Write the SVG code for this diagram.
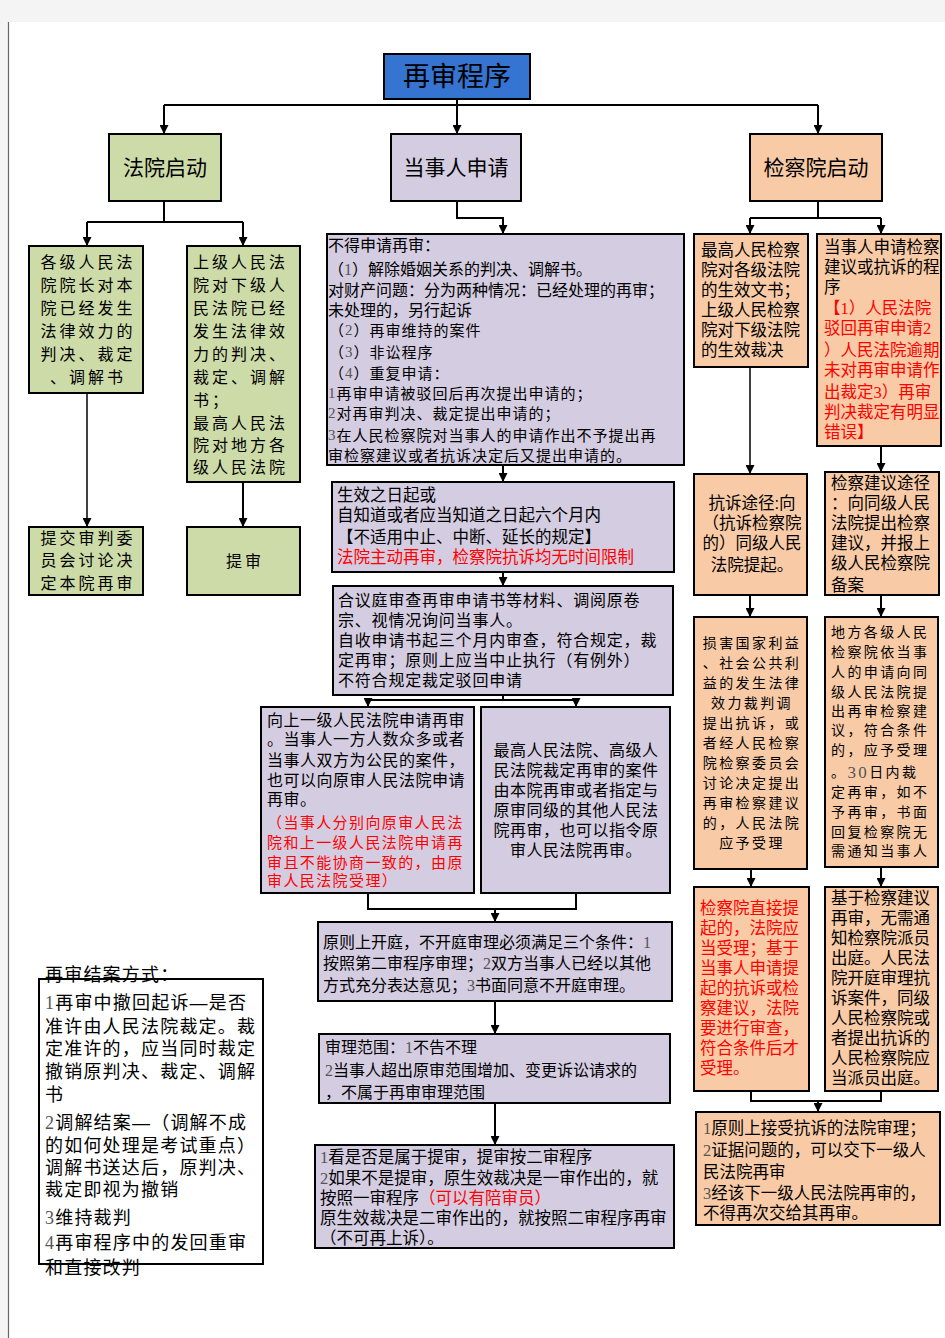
<svg xmlns="http://www.w3.org/2000/svg" width="945" height="1338" viewBox="0 0 945 1338">
<defs>
<marker id="ah" viewBox="0 0 10 10" refX="10" refY="5" markerWidth="11" markerHeight="9" markerUnits="userSpaceOnUse" orient="auto">
<path d="M0,0 L10,5 L0,10 z" fill="#000"/>
</marker>
<style>
text{font-family:"Liberation Sans","Noto Sans CJK SC",sans-serif;fill:#000;dominant-baseline:central}
.b{stroke:#000;stroke-width:2}
.g{fill:#cddba8}
.p{fill:#d4cce0}
.o{fill:#f8cba6}
.t16{font-size:16px}
.t165{font-size:16.5px}
.sp{font-size:14px;letter-spacing:2.4px}
.sg{font-size:16px;letter-spacing:3px}
.r{fill:#ff0000}
.d{font-family:"Liberation Serif",serif;fill:#555}
.c line,.c path{stroke:#000;stroke-width:2;fill:none}
.c .th{stroke-width:1.5}
</style>
</defs>
<rect x="0" y="0" width="945" height="1338" fill="#ffffff"/>
<rect x="0" y="0" width="945" height="22" fill="#f4f4f4"/>
<rect x="0" y="0" width="8" height="1338" fill="#f4f4f4"/>
<line x1="8.5" y1="22" x2="8.5" y2="1338" stroke="#666" stroke-width="1.2"/>

<g id="connectors" class="c">
<path d="M457,99 V134" marker-end="url(#ah)"/>
<path d="M164,105 H818"/>
<path d="M164,105 V134" marker-end="url(#ah)"/>
<path d="M818,105 V134" marker-end="url(#ah)"/>
<path d="M164,201 V222"/>
<path d="M87,222 H243"/>
<path d="M87,222 V246" marker-end="url(#ah)"/>
<path d="M243,222 V246" marker-end="url(#ah)"/>
<path d="M457,201 V218 H503 V234" marker-end="url(#ah)"/>
<path d="M818,201 V218"/>
<path d="M750,218 H881"/>
<path d="M750,218 V234" marker-end="url(#ah)"/>
<path d="M881,218 V234" marker-end="url(#ah)"/>
<path class="th" d="M87,393 V527" marker-end="url(#ah)"/>
<path d="M243,482 V527" marker-end="url(#ah)"/>
<path d="M503,465 V482" marker-end="url(#ah)"/>
<path d="M503,572 V586" marker-end="url(#ah)"/>
<path d="M503,695 V700"/>
<path d="M368,700 H576"/>
<path d="M368,700 V707" marker-end="url(#ah)"/>
<path d="M576,700 V707" marker-end="url(#ah)"/>
<path d="M368,893 V909 H576 V893"/>
<path d="M495,909 V922" marker-end="url(#ah)"/>
<path d="M495,1001 V1034" marker-end="url(#ah)"/>
<path d="M495,1103 V1145" marker-end="url(#ah)"/>
<path class="th" d="M750,367 V474" marker-end="url(#ah)"/>
<path d="M881,446 V472" marker-end="url(#ah)"/>
<path d="M750,595 V617" marker-end="url(#ah)"/>
<path d="M881,595 V617" marker-end="url(#ah)"/>
<path d="M751,869 V887" marker-end="url(#ah)"/>
<path d="M881,867 V887" marker-end="url(#ah)"/>
<path d="M751,1091 V1101 H881 V1091"/>
<path d="M818,1101 V1112" marker-end="url(#ah)"/>
</g>

<g id="n-title">
<rect x="384" y="54" width="146" height="45" fill="#3574d0" class="b"/>
<text x="457" y="77" font-size="27" text-anchor="middle">再审程序</text>
</g>
<g id="n-court">
<rect x="109" y="134" width="112" height="67" class="b g"/>
<text x="165" y="167" font-size="21" text-anchor="middle">法院启动</text>
</g>
<g id="n-party">
<rect x="391" y="134" width="130" height="67" class="b p"/>
<text x="456" y="167" font-size="21" text-anchor="middle">当事人申请</text>
</g>
<g id="n-proc">
<rect x="750" y="134" width="132" height="67" class="b o"/>
<text x="816" y="167" font-size="21" text-anchor="middle">检察院启动</text>
</g>

<g id="n-a">
<rect x="29" y="246" width="114" height="147" class="b g"/>
<g class="sg" text-anchor="middle">
<text x="88" y="262">各级人民法</text>
<text x="88" y="285">院院长对本</text>
<text x="88" y="308">院已经发生</text>
<text x="88" y="331">法律效力的</text>
<text x="88" y="354">判决、裁定</text>
<text x="88" y="377">、调解书</text>
</g>
</g>
<g id="n-b">
<rect x="187" y="246" width="113" height="236" class="b g"/>
<g class="sg">
<text x="193" y="262">上级人民法</text>
<text x="193" y="285">院对下级人</text>
<text x="193" y="308">民法院已经</text>
<text x="193" y="331">发生法律效</text>
<text x="193" y="354">力的判决、</text>
<text x="193" y="377">裁定、调解</text>
<text x="193" y="400">书；</text>
<text x="193" y="423">最高人民法</text>
<text x="193" y="445">院对地方各</text>
<text x="193" y="467">级人民法院</text>
</g>
</g>
<g id="n-c">
<rect x="29" y="527" width="114" height="68" class="b g"/>
<g class="sg" text-anchor="middle">
<text x="88" y="538">提交审判委</text>
<text x="88" y="560">员会讨论决</text>
<text x="88" y="583">定本院再审</text>
</g>
</g>
<g id="n-d">
<rect x="187" y="527" width="113" height="68" class="b g"/>
<text x="245" y="561" class="sg" text-anchor="middle">提审</text>
</g>

<g id="n-m1">
<rect x="327" y="234" width="357" height="231" class="b p"/>
<g class="t16">
<text x="328" y="245">不得申请再审：</text>
<text x="328" y="269">（<tspan class="d">1</tspan>）解除婚姻关系的判决、调解书。</text>
<text x="328" y="290">对财产问题：分为两种情况：已经处理的再审；</text>
<text x="328" y="310">未处理的，另行起诉</text>
</g>
<g font-size="15" letter-spacing="1">
<text x="329" y="330">（<tspan class="d">2</tspan>）再审维持的案件</text>
<text x="329" y="352">（<tspan class="d">3</tspan>）非讼程序</text>
<text x="329" y="373">（<tspan class="d">4</tspan>）重复申请：</text>
<text x="328" y="393"><tspan class="d">1</tspan>再审申请被驳回后再次提出申请的；</text>
<text x="328" y="413"><tspan class="d">2</tspan>对再审判决、裁定提出申请的；</text>
<text x="328" y="435"><tspan class="d">3</tspan>在人民检察院对当事人的申请作出不予提出再</text>
<text x="328" y="455">审检察建议或者抗诉决定后又提出申请的。</text>
</g>
</g>

<g id="n-m2">
<rect x="332" y="482" width="342" height="90" class="b p"/>
<g class="t165">
<text x="337" y="495">生效之日起或</text>
<text x="337" y="515">自知道或者应当知道之日起六个月内</text>
<text x="337" y="537">【不适用中止、中断、延长的规定】</text>
<text x="337" y="557" class="r">法院主动再审，检察院抗诉均无时间限制</text>
</g>
</g>

<g id="n-m3">
<rect x="333" y="586" width="340" height="109" class="b p"/>
<g class="t16" letter-spacing="0.8">
<text x="338" y="600">合议庭审查再审申请书等材料、调阅原卷</text>
<text x="338" y="620">宗、视情况询问当事人。</text>
<text x="338" y="640">自收申请书起三个月内审查，符合规定，裁</text>
<text x="338" y="660">定再审；原则上应当中止执行（有例外）</text>
<text x="338" y="680">不符合规定裁定驳回申请</text>
</g>
</g>

<g id="n-e">
<rect x="261" y="707" width="213" height="186" class="b p"/>
<g class="t16" letter-spacing="0.5">
<text x="267" y="720">向上一级人民法院申请再审</text>
<text x="267" y="739">。当事人一方人数众多或者</text>
<text x="267" y="760">当事人双方为公民的案件，</text>
<text x="267" y="780">也可以向原审人民法院申请</text>
<text x="267" y="799">再审。</text>
</g>
<g font-size="15" letter-spacing="1.4">
<text x="267" y="822" class="r">（当事人分别向原审人民法</text>
<text x="267" y="842" class="r">院和上一级人民法院申请再</text>
<text x="267" y="862" class="r">审且不能协商一致的，由原</text>
<text x="267" y="880" class="r">审人民法院受理）</text>
</g>
</g>

<g id="n-f">
<rect x="481" y="707" width="189" height="186" class="b p"/>
<g class="t16" letter-spacing="0.5" text-anchor="middle">
<text x="576" y="750">最高人民法院、高级人</text>
<text x="576" y="770">民法院裁定再审的案件</text>
<text x="576" y="790">由本院再审或者指定与</text>
<text x="576" y="810">原审同级的其他人民法</text>
<text x="576" y="830">院再审，也可以指令原</text>
<text x="576" y="850">审人民法院再审。</text>
</g>
</g>

<g id="n-g">
<rect x="318" y="922" width="354" height="79" class="b p"/>
<g class="t16">
<text x="323" y="942">原则上开庭，不开庭审理必须满足三个条件：<tspan class="d">1</tspan></text>
<text x="323" y="963">按照第二审程序审理；<tspan class="d">2</tspan>双方当事人已经以其他</text>
<text x="323" y="985">方式充分表达意见；<tspan class="d">3</tspan>书面同意不开庭审理。</text>
</g>
</g>

<g id="n-h">
<rect x="319" y="1034" width="351" height="69" class="b p"/>
<g class="t16">
<text x="325" y="1047">审理范围：<tspan class="d">1</tspan>不告不理</text>
<text x="325" y="1070"><tspan class="d">2</tspan>当事人超出原审范围增加、变更诉讼请求的</text>
<text x="325" y="1092">，不属于再审审理范围</text>
</g>
</g>

<g id="n-i">
<rect x="315" y="1145" width="359" height="103" class="b p"/>
<g class="t165">
<text x="320" y="1157"><tspan class="d">1</tspan>看是否是属于提审，提审按二审程序</text>
<text x="320" y="1178"><tspan class="d">2</tspan>如果不是提审，原生效裁决是一审作出的，就</text>
<text x="320" y="1198">按照一审程序<tspan class="r">（可以有陪审员）</tspan></text>
<text x="320" y="1218">原生效裁决是二审作出的，就按照二审程序再审</text>
<text x="320" y="1238">（不可再上诉）。</text>
</g>
</g>

<g id="n-end">
<rect x="39" y="979" width="224" height="285" fill="#fff" class="b"/>
<g font-size="18" letter-spacing="1.2">
<text x="45" y="975">再审结案方式：</text>
<text x="45" y="1003"><tspan class="d">1</tspan>再审中撤回起诉—是否</text>
<text x="45" y="1027">准许由人民法院裁定。裁</text>
<text x="45" y="1049">定准许的，应当同时裁定</text>
<text x="45" y="1072">撤销原判决、裁定、调解</text>
<text x="45" y="1095">书</text>
<text x="45" y="1123"><tspan class="d">2</tspan>调解结案—（调解不成</text>
<text x="45" y="1146">的如何处理是考试重点）</text>
<text x="45" y="1168">调解书送达后，原判决、</text>
<text x="45" y="1190">裁定即视为撤销</text>
<text x="45" y="1218"><tspan class="d">3</tspan>维持裁判</text>
<text x="45" y="1243"><tspan class="d">4</tspan>再审程序中的发回重审</text>
<text x="45" y="1268">和直接改判</text>
</g>
</g>

<g id="n-r1">
<rect x="694" y="234" width="114" height="133" class="b o"/>
<g class="t165">
<text x="701" y="250">最高人民检察</text>
<text x="701" y="270">院对各级法院</text>
<text x="701" y="290">的生效文书；</text>
<text x="701" y="310">上级人民检察</text>
<text x="701" y="330">院对下级法院</text>
<text x="701" y="350">的生效裁决</text>
</g>
</g>
<g id="n-r2">
<rect x="817" y="234" width="124" height="212" class="b o"/>
<g class="t165">
<text x="824" y="247">当事人申请检察</text>
<text x="824" y="267">建议或抗诉的程</text>
<text x="824" y="287">序</text>
<text x="824" y="308" class="r">【<tspan class="d" style="fill:#ff0000">1</tspan>）人民法院</text>
<text x="824" y="328" class="r">驳回再审申请<tspan class="d" style="fill:#ff0000">2</tspan></text>
<text x="824" y="350" class="r">）人民法院逾期</text>
<text x="824" y="370" class="r">未对再审申请作</text>
<text x="824" y="392" class="r">出裁定<tspan class="d" style="fill:#ff0000">3</tspan>）再审</text>
<text x="824" y="412" class="r">判决裁定有明显</text>
<text x="824" y="432" class="r">错误】</text>
</g>
</g>

<g id="n-r3">
<rect x="694" y="474" width="113" height="121" class="b o"/>
<g class="t165" text-anchor="middle">
<text x="752" y="503">抗诉途径:向</text>
<text x="752" y="523">（抗诉检察院</text>
<text x="752" y="543">的）同级人民</text>
<text x="752" y="565">法院提起。</text>
</g>
</g>
<g id="n-r4">
<rect x="825" y="472" width="114" height="123" class="b o"/>
<g class="t165">
<text x="831" y="483">检察建议途径</text>
<text x="831" y="503">：向同级人民</text>
<text x="831" y="523">法院提出检察</text>
<text x="831" y="543">建议，并报上</text>
<text x="831" y="563">级人民检察院</text>
<text x="831" y="585">备案</text>
</g>
</g>

<g id="n-r5">
<rect x="694" y="617" width="113" height="252" class="b o"/>
<g class="sp" text-anchor="middle">
<text x="752" y="643">损害国家利益</text>
<text x="752" y="663">、社会公共利</text>
<text x="752" y="683">益的发生法律</text>
<text x="752" y="703">效力裁判调</text>
<text x="752" y="723">提出抗诉，或</text>
<text x="752" y="743">者经人民检察</text>
<text x="752" y="763">院检察委员会</text>
<text x="752" y="783">讨论决定提出</text>
<text x="752" y="803">再审检察建议</text>
<text x="752" y="823">的，人民法院</text>
<text x="752" y="843">应予受理</text>
</g>
</g>
<g id="n-r6">
<rect x="825" y="617" width="113" height="250" class="b o"/>
<g class="sp">
<text x="831" y="632">地方各级人民</text>
<text x="831" y="652">检察院依当事</text>
<text x="831" y="672">人的申请向同</text>
<text x="831" y="692">级人民法院提</text>
<text x="831" y="711">出再审检察建</text>
<text x="831" y="730">议，符合条件</text>
<text x="831" y="750">的，应予受理</text>
<text x="831" y="772">。<tspan class="d" font-size="17">30</tspan>日内裁</text>
<text x="831" y="792">定再审，如不</text>
<text x="831" y="812">予再审，书面</text>
<text x="831" y="832">回复检察院无</text>
<text x="831" y="851">需通知当事人</text>
</g>
</g>

<g id="n-r7">
<rect x="694" y="887" width="115" height="204" class="b o"/>
<g class="t165">
<text x="700" y="908" class="r">检察院直接提</text>
<text x="700" y="928" class="r">起的，法院应</text>
<text x="700" y="948" class="r">当受理；基于</text>
<text x="700" y="968" class="r">当事人申请提</text>
<text x="700" y="988" class="r">起的抗诉或检</text>
<text x="700" y="1008" class="r">察建议，法院</text>
<text x="700" y="1028" class="r">要进行审查，</text>
<text x="700" y="1048" class="r">符合条件后才</text>
<text x="700" y="1068" class="r">受理。</text>
</g>
</g>
<g id="n-r8">
<rect x="825" y="887" width="113" height="204" class="b o"/>
<g class="t165">
<text x="831" y="898">基于检察建议</text>
<text x="831" y="918">再审，无需通</text>
<text x="831" y="938">知检察院派员</text>
<text x="831" y="958">出庭。人民法</text>
<text x="831" y="978">院开庭审理抗</text>
<text x="831" y="998">诉案件，同级</text>
<text x="831" y="1018">人民检察院或</text>
<text x="831" y="1038">者提出抗诉的</text>
<text x="831" y="1058">人民检察院应</text>
<text x="831" y="1078">当派员出庭。</text>
</g>
</g>
<g id="n-r9">
<rect x="696" y="1112" width="244" height="113" class="b o"/>
<g class="t165">
<text x="703" y="1128"><tspan class="d">1</tspan>原则上接受抗诉的法院审理；</text>
<text x="703" y="1150"><tspan class="d">2</tspan>证据问题的，可以交下一级人</text>
<text x="703" y="1172">民法院再审</text>
<text x="703" y="1193"><tspan class="d">3</tspan>经该下一级人民法院再审的，</text>
<text x="703" y="1213">不得再次交给其再审。</text>
</g>
</g>
</svg>
